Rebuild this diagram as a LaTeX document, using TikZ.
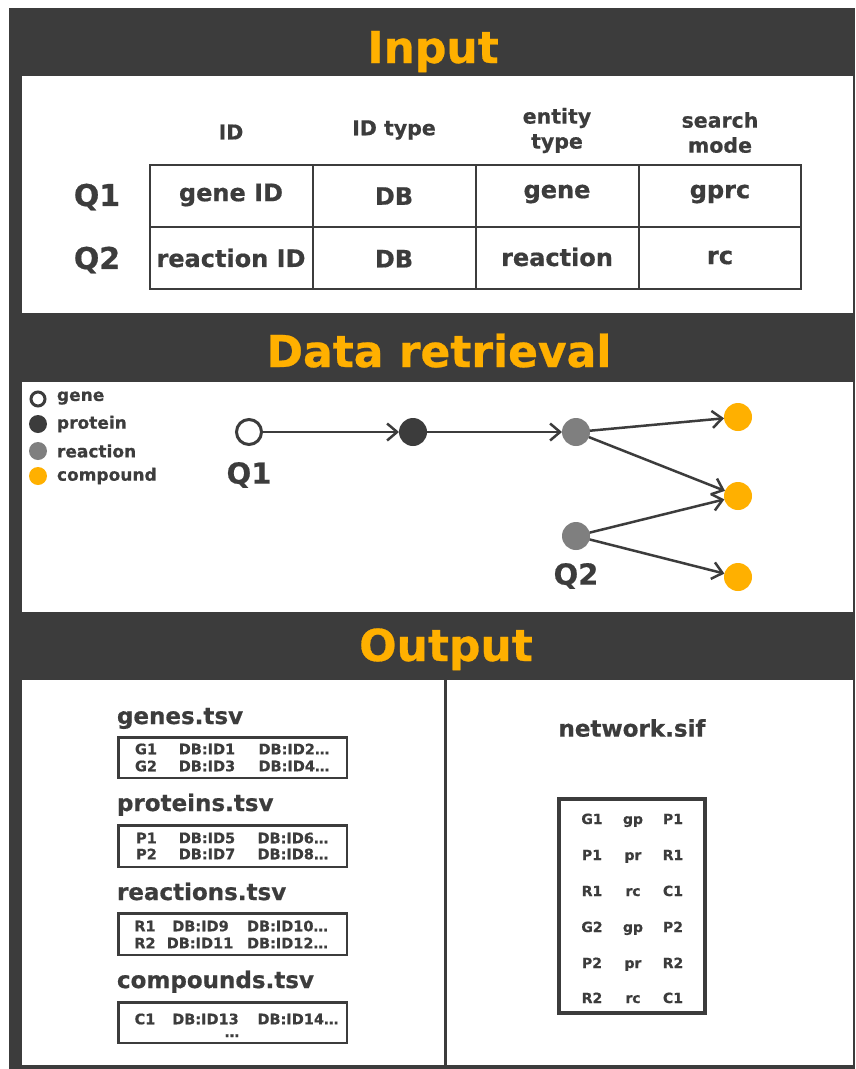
\documentclass[tikz,border=0pt]{standalone}
\usepackage{fontspec}
\setmainfont{DejaVu Sans}[BoldFeatures={FakeBold=0.6}]
\usetikzlibrary{arrows.meta}
\definecolor{panel}{HTML}{3C3C3C}
\definecolor{gold}{HTML}{FFB000}
\definecolor{midgray}{HTML}{7F7F7F}
\newcommand{\fs}[1]{\fontsize{#1}{#1}\bfseries\selectfont}
\begin{document}
\begin{tikzpicture}[x=1pt,y=-1pt,
  every node/.style={inner sep=0pt,outer sep=0pt,text=panel},
  title/.style={font=\fs{44},text=gold,anchor=base},
  head/.style={font=\fontsize{20.5}{25}\bfseries\selectfont,align=center},
  cell/.style={font=\fs{24}},
  qlabel/.style={font=\fs{30}},
  legend/.style={font=\fs{17},anchor=west},
  gnode/.style={circle,draw=panel,line width=3pt,fill=white,minimum size=25pt},
  pnode/.style={circle,fill=panel,minimum size=28pt},
  rnode/.style={circle,fill=midgray,minimum size=28pt},
  cnode/.style={circle,fill=gold,minimum size=28pt},
  arr/.style={draw=panel,line width=2.5pt,-{Straight Barb[length=10pt,width=17pt]}},
  fname/.style={font=\fs{23},anchor=base west},
  tsvbox/.style={draw=panel,line width=2.5pt},
  tsv/.style={font=\fs{14.5}},
  sif/.style={font=\fs{14},anchor=base}]
\useasboundingbox (0,0) rectangle (855,1069);
\fill[white] (0,0) rectangle (855,1069);
% frame and section panels
\fill[panel] (9,8) rectangle (855,1069);
\fill[white] (22,76) rectangle (853,313);
\fill[white] (22,382) rectangle (853,612);
\fill[white] (22,680) rectangle (853,1065);
\draw[panel,line width=2.5pt] (445.5,680) -- (445.5,1065);

% section titles
\node[title] (tin) at (433,63) {Input};
\node[title] (tdr) at (439,367) {Data retrieval};
\node[title] (tout) at (446,661) {Output};

% ---------- input table ----------
\draw[panel,line width=1.5pt] (150,165) rectangle (801,289);
\draw[panel,line width=1.5pt] (150,227) -- (801,227);
\foreach \x in {313,476,639} \draw[panel,line width=1.5pt] (\x,165) -- (\x,289);
\node[head] (hid) at (231,132) {ID};
\node[head] (htype) at (394,130) {ID type};
\node[head] (hent) at (557,130.5) {entity\\type};
\node[head] (hmode) at (720,132.5) {search\\mode};
\node[qlabel] (q1t) at (97,197) {Q1};
\node[qlabel] (q2t) at (97,260) {Q2};
\node[cell] (c11) at (231,195) {gene ID};
\node[cell] (c12) at (394,196) {DB};
\node[cell] (c13) at (557,194) {gene};
\node[cell] (c14) at (720,194) {gprc};
\node[cell] (c21) at (231,258) {reaction ID};
\node[cell] (c22) at (394,258.7) {DB};
\node[cell] (c23) at (557,257) {reaction};
\node[cell] (c24) at (720,257.5) {rc};

% ---------- data retrieval ----------
\node[circle,draw=panel,line width=3pt,fill=white,minimum size=14pt] (lg) at (38,399) {};
\node[circle,fill=panel,minimum size=18pt] (lp) at (38,424) {};
\node[circle,fill=midgray,minimum size=18pt] (lr) at (38,451) {};
\node[circle,fill=gold,minimum size=18pt] (lc) at (38,476) {};
\node[legend] (tg) at (57,398) {gene};
\node[legend] (tp) at (57,424) {protein};
\node[legend] (tr) at (57,451) {reaction};
\node[legend] (tc) at (57,476) {compound};

\node[gnode] (g) at (249,432) {};
\node[pnode] (p) at (413,432) {};
\node[rnode] (r1) at (576,432) {};
\node[rnode] (r2) at (576,536) {};
\node[cnode] (c1) at (738,417) {};
\node[cnode] (c2) at (738,496) {};
\node[cnode] (c3) at (738,577) {};
\node[qlabel,font=\fs{29}] (q1) at (249,475) {Q1};
\node[qlabel,font=\fs{29}] (q2) at (576,576) {Q2};
\draw[arr] (g) -- (p);
\draw[arr] (p) -- (r1);
\draw[arr] (r1) -- (c1);
\draw[arr] (r1) -- (c2);
\draw[arr] (r2) -- (c2);
\draw[arr] (r2) -- (c3);

% ---------- output: tsv files ----------
\node[fname] (fg) at (117,724) {genes.tsv};
\draw[tsvbox] (118.25,737.25) rectangle (346.75,777.75);
\node[tsv] (g1) at (146,749) {G1};
\node[tsv] (g1a) at (207,749) {DB:ID1};
\node[tsv] (g1b) at (294,749) {DB:ID2…};
\node[tsv] (g2) at (146,766) {G2};
\node[tsv] (g2a) at (207,766) {DB:ID3};
\node[tsv] (g2b) at (294,766) {DB:ID4…};

\node[fname] (fp) at (117,811) {proteins.tsv};
\draw[tsvbox] (118.25,825.25) rectangle (346.75,866.75);
\node[tsv] (p1) at (146.5,838) {P1};
\node[tsv] (p1a) at (207,838) {DB:ID5};
\node[tsv] (p1b) at (293,838) {DB:ID6…};
\node[tsv] (p2) at (146.5,854) {P2};
\node[tsv] (p2a) at (207,854) {DB:ID7};
\node[tsv] (p2b) at (293,854) {DB:ID8…};

\node[fname] (fr) at (117,900) {reactions.tsv};
\draw[tsvbox] (118.25,913.25) rectangle (346.75,954.75);
\node[tsv] (r1t) at (145,926) {R1};
\node[tsv] (r1a) at (200.5,926) {DB:ID9};
\node[tsv] (r1b) at (287.5,926) {DB:ID10…};
\node[tsv] (r2t) at (145,943) {R2};
\node[tsv] (r2a) at (200,943) {DB:ID11};
\node[tsv] (r2b) at (287.5,943) {DB:ID12…};

\node[fname] (fc) at (117,988) {compounds.tsv};
\draw[tsvbox] (118.25,1002.25) rectangle (346.75,1042.75);
\node[tsv] (c1t) at (145,1019) {C1};
\node[tsv] (c1a) at (205.5,1019) {DB:ID13};
\node[tsv] (c1b) at (298,1019) {DB:ID14…};
\node[tsv,anchor=base] (cdots) at (232,1037) {…};

% ---------- output: network ----------
\node[font=\fs{23}] (fn) at (632,728) {network.sif};
\draw[draw=panel,line width=4pt] (559,799) rectangle (705,1013);
\foreach \y/\a/\b/\c [count=\i] in {824/G1/gp/P1,860/P1/pr/R1,896/R1/rc/C1,932/G2/gp/P2,968/P2/pr/R2,1003/R2/rc/C1}{
  \node[sif] (s\i a) at (592,\y) {\a};
  \node[sif] (s\i b) at (633,\y) {\b};
  \node[sif] (s\i c) at (673,\y) {\c};
}
\end{tikzpicture}
\end{document}
